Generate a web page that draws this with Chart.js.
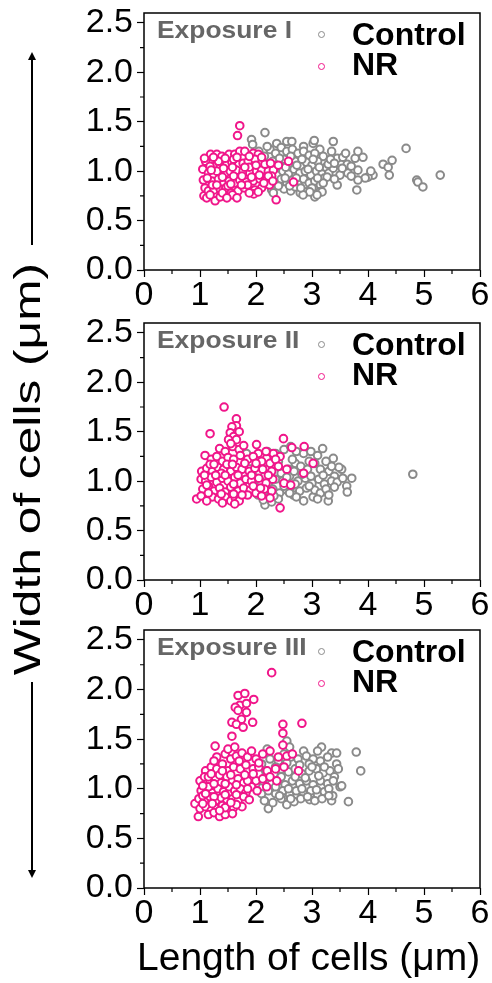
<!DOCTYPE html>
<html>
<head>
<meta charset="utf-8">
<script src="https://cdn.jsdelivr.net/npm/chart.js@4.4.1/dist/chart.umd.min.js"></script>
<style>
  html, body { margin: 0; padding: 0; background: #fff; }
  body { width: 492px; height: 983px; position: relative; overflow: hidden;
         font-family: "Liberation Sans", Arial, sans-serif; }
  canvas.panel { position: absolute; left: 0; }
  .txt { position: absolute; white-space: nowrap; }
  .expo { font-weight: bold; font-size: 24px; line-height: 24px; color: #666;
          transform: scaleX(1.1); transform-origin: left center; }
  .leg { font-weight: bold; font-size: 32px; line-height: 32px; color: #000; }
  .dot { position: absolute; width: 5px; height: 5px; border-radius: 50%;
         border: 1.5px solid; background: #fff; }
  #xtitle { font-size: 39px; line-height: 39px; left: 137px; top: 937px; }
  #ytitle { font-size: 36px; line-height: 36px; left: 28px; top: 469px;
            transform: translate(-50%, -50%) rotate(-90deg) scaleX(1.38); }
  svg { position: absolute; left: 0; top: 0; }
</style>
</head>
<body>
<canvas id="c1" class="panel" width="492" height="315" style="top:0px"></canvas>
<canvas id="c2" class="panel" width="492" height="315" style="top:310px"></canvas>
<canvas id="c3" class="panel" width="492" height="316" style="top:617px"></canvas>

<div id="ytitle" class="txt">Width of cells (μm)</div>
<div id="xtitle" class="txt">Length of cells (μm)</div>

<svg width="492" height="983">
  <defs>
    <marker id="ah" markerWidth="8" markerHeight="8" refX="4" refY="4" orient="auto" markerUnits="userSpaceOnUse">
      <path d="M0,0 L8,4 L0,8 z" fill="#000"/>
    </marker>
  </defs>
  <line x1="32" y1="245" x2="32" y2="56" stroke="#000" stroke-width="2" marker-end="url(#ah)"/>
  <line x1="32" y1="682" x2="32" y2="874" stroke="#000" stroke-width="2" marker-end="url(#ah)"/>
</svg>

<script>
// tick values
const X_TICKS_MAJOR = [0, 1, 2, 3, 4, 5, 6];
const X_TICKS_MINOR = [0.5, 1.5, 2.5, 3.5, 4.5, 5.5];
const Y_TICKS_MINOR = [0.25, 0.75, 1.25, 1.75, 2.25];

const PANEL_TITLES = ['Exposure I', 'Exposure II', 'Exposure III'];
const SERIES_NAMES = ['Control', 'NR'];

// ── Exposure I ──────────────────────────────────────────────
const ctrl1 = [
  [1.92,1.32],[1.94,1.27],[2.16,1.39],[2.37,1.28],[2.55,1.30],[2.64,1.30],[2.85,1.25],[3.02,1.28],[3.04,1.31],[3.14,1.22],[3.38,1.30],
  [2.05,1.20],[2.15,1.15],[2.25,1.22],[2.35,1.18],[2.45,1.24],[2.55,1.20],[2.65,1.22],[2.75,1.18],[2.85,1.20],[2.95,1.16],[3.05,1.18],[3.20,1.15],
  [2.10,1.08],[2.20,1.05],[2.30,1.10],[2.40,1.07],[2.50,1.12],[2.60,1.08],[2.70,1.10],[2.80,1.05],[2.90,1.09],[3.00,1.06],[3.10,1.10],[3.25,1.04],
  [2.15,0.98],[2.28,1.00],[2.38,0.96],[2.48,1.00],[2.58,0.97],[2.68,1.02],[2.78,0.98],[2.88,1.00],[2.98,0.96],[3.08,1.00],[3.18,0.97],[3.30,0.98],
  [2.25,0.90],[2.35,0.87],[2.45,0.92],[2.55,0.88],[2.65,0.91],[2.75,0.87],[2.85,0.92],[2.95,0.88],[3.05,0.90],[3.15,0.86],[3.22,0.93],
  [2.28,0.81],[2.31,0.78],[2.50,0.82],[2.62,0.80],[2.79,0.78],[2.90,0.79],[3.05,0.74],[3.14,0.79],[2.70,0.84],[3.00,0.83],
  [3.45,1.13],[3.55,1.14],[3.77,1.13],[3.82,1.20],[3.91,1.14],[4.27,1.07],[4.43,1.11],[4.36,1.04],[4.38,0.96],[4.09,0.96],
  [4.00,0.94],[3.95,0.93],[3.82,1.01],[3.82,0.91],[3.80,0.81],[3.45,0.86],[4.87,0.91],[4.89,0.89],[4.98,0.84],[5.29,0.96],
  [4.68,1.23],[3.63,1.07],[3.64,0.98],[3.50,0.96],[3.54,1.03],[3.38,1.03],[3.29,1.07],[3.27,0.94],[3.20,0.88],[3.18,0.79],
  [3.09,0.76],[2.96,0.79],[2.84,0.76],[3.35,1.20],[3.40,0.92],[3.70,1.05],[4.05,1.00],[3.60,1.18],[3.33,1.12],
  [2.20,1.25],[2.42,1.13],[2.62,1.15],[2.82,1.12],[3.02,1.12],[2.33,1.03],[2.53,1.04],[2.73,1.06],[2.93,1.02],[3.13,1.04],
  [2.40,0.85],[2.60,0.85],[2.80,0.83],[3.10,0.93],[3.40,1.08],[3.70,0.95],[2.52,0.93],[2.72,0.93]
];
const nr1 = [
  [1.71,1.46],[1.67,1.36],
  [1.05,1.02],[1.06,0.91],[1.09,0.83],[1.07,0.75],[1.12,0.73],
  [1.19,1.17],[1.30,1.17],[1.39,1.15],[1.52,1.17],[1.62,1.17],[1.71,1.20],[1.80,1.20],[1.95,1.18],[2.04,1.17],
  [1.27,1.05],[1.36,1.06],[1.48,1.08],[1.57,1.09],[1.69,1.07],[1.77,1.08],[1.86,1.10],[1.98,1.12],
  [1.15,0.98],[1.24,0.95],[1.36,0.97],[1.45,0.98],[1.54,1.00],[1.65,1.01],[1.77,1.00],[1.89,0.98],[2.01,1.00],[2.10,1.01],[2.22,1.00],[2.31,1.01],
  [1.21,0.90],[1.33,0.92],[1.42,0.87],[1.52,0.90],[1.62,0.88],[1.71,0.91],[1.83,0.89],[1.95,0.90],[2.07,0.92],[2.19,0.92],[2.28,0.95],
  [1.15,0.80],[1.25,0.81],[1.36,0.82],[1.46,0.83],[1.56,0.78],[1.68,0.80],[1.79,0.83],[1.98,0.81],[2.10,0.83],[2.24,0.86],
  [1.27,0.70],[1.36,0.74],[1.58,0.76],[1.96,0.77],[2.04,0.79],
  [2.36,0.71],[2.40,1.06],[2.58,1.10],[2.67,0.89],[2.22,0.95],[2.16,1.07],
  [1.10,1.10],[1.18,1.05],[1.30,1.00],[1.42,1.03],[1.60,0.95],[1.75,0.95],[1.88,1.04],[1.50,0.85],[1.40,0.78],[1.22,0.86],
  [1.33,1.10],[1.60,1.12],[1.85,0.86],[2.00,1.06],[1.13,0.93],
  [1.08,1.13],[1.24,1.14],[1.45,1.13],[1.66,1.14],[1.88,1.15],[2.10,1.14],[1.20,1.01],[1.40,0.94],[1.58,1.04],[1.80,1.04],
  [2.06,0.96],[2.26,1.08],[1.30,0.86],[1.55,0.87],[1.74,0.86],[1.92,0.94],[2.14,0.88],[1.18,0.76],[1.48,0.73],[1.66,0.73],
  [1.88,0.78],[2.30,0.90]
];

// ── Exposure II ─────────────────────────────────────────────
const ctrl2 = [
  [4.80,1.07],[3.19,1.33],[3.38,1.23],[3.53,1.12],[3.71,1.03],[3.62,0.95],[3.63,0.89],[3.29,0.80],[3.02,0.84],[2.67,0.86],
  [2.55,0.91],[2.16,0.76],[2.13,0.81],[2.28,0.79],[2.04,0.86],[1.83,1.28],
  [1.90,1.20],[2.00,1.15],[2.10,1.25],[2.20,1.30],[2.35,1.28],[2.50,1.32],[2.62,1.35],[2.72,1.30],[2.85,1.28],[2.98,1.30],[3.10,1.26],[3.25,1.20],
  [1.95,1.08],[2.05,1.10],[2.18,1.12],[2.30,1.15],[2.45,1.08],[2.58,1.12],[2.70,1.18],[2.80,1.15],[2.92,1.12],[3.05,1.18],[3.15,1.12],[3.30,1.10],[3.40,1.05],[3.48,1.14],
  [2.08,1.00],[2.22,0.98],[2.35,1.02],[2.48,1.00],[2.60,1.05],[2.75,1.00],[2.88,1.03],[3.00,0.98],[3.12,1.02],[3.22,0.97],[3.35,1.00],[3.45,0.99],[3.55,1.03],
  [2.15,0.90],[2.30,0.92],[2.42,0.88],[2.62,0.94],[2.78,0.90],[2.90,0.93],[3.05,0.91],[3.15,0.88],[3.25,0.92],[3.40,0.94],
  [2.40,0.82],[2.72,0.84],[2.85,0.80],[3.10,0.82],
  [1.88,0.95],[1.98,1.02],[2.95,1.20],[2.65,1.22],
  [2.25,1.05],[2.40,1.20],[2.55,1.04],[2.68,1.10],[2.82,1.07],[2.98,1.05],[3.20,1.06],[3.35,1.15],[2.50,0.95],[2.70,0.97],
  [2.95,0.95],[3.30,0.86],[2.32,0.85],[2.60,0.88]
];
const nr2 = [
  [1.43,1.75],[1.65,1.63],[1.65,1.56],[1.57,1.55],[1.54,1.49],[1.60,1.45],[1.51,1.42],[1.65,1.42],[1.18,1.48],[1.09,1.26],
  [0.94,0.82],[2.43,0.73],[2.49,1.43],[2.86,1.35],[3.02,1.18],[2.85,1.08],[2.64,1.34],[2.43,1.25],[2.31,1.28],[2.19,1.23],[2.01,1.37],[2.04,1.28],
  [1.35,1.33],[1.45,1.30],[1.58,1.35],[1.70,1.32],[1.78,1.36],
  [1.20,1.22],[1.30,1.25],[1.40,1.20],[1.50,1.24],[1.60,1.22],[1.72,1.26],[1.85,1.22],[1.95,1.25],[2.10,1.20],[2.25,1.18],[2.35,1.22],
  [1.03,1.10],[1.12,1.13],[1.22,1.10],[1.32,1.14],[1.42,1.12],[1.55,1.10],[1.65,1.14],[1.75,1.12],[1.88,1.10],[1.98,1.13],[2.12,1.12],[2.28,1.10],[2.40,1.15],[2.55,1.12],
  [1.02,1.02],[1.10,1.00],[1.20,1.04],[1.30,0.99],[1.40,1.03],[1.50,1.00],[1.62,1.04],[1.72,0.98],[1.82,1.02],[1.92,1.00],[2.05,1.03],[2.18,0.98],[2.30,1.02],[2.50,0.98],[2.62,0.96],
  [1.05,0.92],[1.15,0.95],[1.25,0.90],[1.35,0.93],[1.45,0.89],[1.55,0.94],[1.68,0.90],[1.78,0.93],[1.90,0.91],[2.00,0.88],[2.15,0.92],[2.28,0.90],
  [1.02,0.85],[1.22,0.84],[1.33,0.82],[1.45,0.84],[1.55,0.80],[1.63,0.83],[1.70,0.80],[1.85,0.86],[2.10,0.85],[2.25,0.83],
  [1.12,0.96],[1.38,1.08],[1.60,0.97],[1.48,1.17],[1.80,1.18],[1.92,1.06],[2.22,1.06],
  [1.08,1.06],[1.18,1.17],[1.28,1.06],[1.45,1.06],[1.58,1.17],[1.68,1.06],[1.15,0.88],[1.38,0.87],[1.60,0.87],[1.75,0.86],
  [1.95,0.95],[2.08,0.93],[1.12,0.80],[1.40,0.78],[1.62,0.77],[1.70,1.50],[1.55,1.38],[1.25,1.17],[2.00,1.18],[2.18,1.30]
];

// ── Exposure III ────────────────────────────────────────────
const ctrl3 = [
  [2.55,1.48],[3.17,1.42],[3.35,1.36],[3.44,1.36],[3.79,1.37],[3.87,1.18],[3.65,0.87],[3.35,0.88],[3.37,0.93],[3.50,1.02],
  [3.53,1.03],[3.44,1.25],[3.47,1.20],[2.55,0.84],[2.22,0.80],[2.96,0.89],[2.85,1.38],
  [2.10,1.25],[2.25,1.30],[2.40,1.28],[2.50,1.35],[2.62,1.32],[2.75,1.30],[2.90,1.33],[3.02,1.30],[3.15,1.28],[3.28,1.32],
  [2.05,1.15],[2.18,1.18],[2.32,1.15],[2.45,1.20],[2.58,1.17],[2.70,1.20],[2.82,1.15],[2.95,1.18],[3.08,1.20],[3.20,1.16],[3.32,1.18],[3.40,1.12],
  [2.00,1.05],[2.12,1.08],[2.28,1.05],[2.40,1.08],[2.52,1.04],[2.65,1.08],[2.78,1.05],[2.90,1.08],[3.02,1.04],[3.15,1.08],[3.28,1.05],[3.38,1.08],
  [2.10,0.95],[2.22,0.98],[2.35,0.95],[2.48,0.98],[2.60,0.94],[2.72,0.98],[2.85,0.95],[2.98,0.98],[3.10,0.94],[3.22,0.97],[3.30,1.00],
  [2.15,0.88],[2.30,0.86],[2.45,0.90],[2.68,0.87],[2.80,0.90],[3.05,0.88],[3.18,0.90],
  [2.60,1.42],[2.95,1.25],[2.20,1.40],[3.10,1.38],
  [2.35,1.22],[2.55,1.26],[2.78,1.24],[3.00,1.22],[3.22,1.22],[2.20,1.12],[2.45,1.12],[2.70,1.12],[2.88,1.11],[3.12,1.13],
  [2.35,1.02],[2.58,1.00],[2.82,1.00],[3.08,0.99],[2.42,0.93],[2.92,0.92],[3.30,0.93],[2.62,0.90]
];
const nr3 = [
  [2.28,2.17],
  [1.68,1.94],[1.80,1.96],[1.71,1.84],[1.83,1.86],[1.63,1.82],[1.68,1.79],[1.83,1.77],[1.74,1.70],[1.96,1.90],[1.57,1.67],
  [1.65,1.65],[1.77,1.62],[1.94,1.67],[1.57,1.53],
  [2.48,1.65],[2.48,1.56],[2.48,1.44],[2.82,1.66],[1.27,1.43],[0.97,0.72],[0.91,0.85],[2.76,1.18],[2.19,1.02],[2.37,1.08],
  [1.30,1.32],[1.45,1.35],[1.55,1.30],[1.65,1.33],[1.75,1.36],[1.85,1.32],[2.00,1.30],[2.12,1.35],[2.25,1.38],[2.40,1.32],[2.55,1.33],[2.65,1.35],
  [1.10,1.18],[1.20,1.22],[1.30,1.20],[1.40,1.25],[1.50,1.18],[1.60,1.22],[1.72,1.20],[1.82,1.24],[1.95,1.20],[2.05,1.22],[2.20,1.18],[2.35,1.20],[2.50,1.22],
  [1.00,1.08],[1.08,1.12],[1.18,1.08],[1.28,1.10],[1.38,1.06],[1.48,1.12],[1.58,1.08],[1.68,1.10],[1.78,1.06],[1.90,1.12],[2.00,1.08],[2.12,1.10],[2.25,1.12],
  [1.02,0.98],[1.12,1.00],[1.22,0.96],[1.32,1.00],[1.42,0.97],[1.52,1.02],[1.62,0.98],[1.72,1.00],[1.82,0.96],[1.92,1.02],[2.02,0.98],
  [0.98,0.90],[1.08,0.88],[1.18,0.92],[1.28,0.88],[1.38,0.91],[1.48,0.87],[1.58,0.90],[1.68,0.88],[1.78,0.92],[1.88,0.89],
  [1.00,0.80],[1.10,0.82],[1.20,0.78],[1.30,0.80],[1.40,0.83],[1.50,0.78],[1.60,0.81],[1.75,0.82],
  [1.15,0.74],[1.25,0.76],[1.35,0.72],[1.45,0.74],[1.58,0.75],
  [1.25,1.28],[1.50,1.40],[1.62,1.42],[1.70,1.28],[1.15,1.02],[1.45,1.05],[1.05,0.93],
  [1.05,1.03],[1.15,1.12],[1.25,1.05],[1.35,1.14],[1.55,1.14],[1.65,1.04],[1.85,1.08],[1.10,0.95],[1.25,0.92],[1.45,0.94],
  [1.65,0.94],[1.85,1.00],[1.05,0.85],[1.22,0.85],[1.45,0.81],[1.65,0.84],[1.35,0.78],[1.55,0.86],[1.95,1.15],[1.40,1.18],
  [1.20,1.15],[1.80,1.14],[2.05,1.26],[1.92,1.38]
];

const PANELS = [
  { id: 'c1', top: 0,   ctrl: ctrl1, nr: nr1 },
  { id: 'c2', top: 310, ctrl: ctrl2, nr: nr2 },
  { id: 'c3', top: 617, ctrl: ctrl3, nr: nr3 },
];

const GREY = '#8a8a8a';
const PINK = '#f0168a';
const FONT = '"Liberation Sans", Arial, sans-serif';

// frame around plot area + short minor ticks
const framePlugin = {
  id: 'frame',
  afterDraw(chart) {
    const { ctx, chartArea: a, scales } = chart;
    ctx.save();
    ctx.strokeStyle = '#000';
    ctx.lineWidth = 1.5;
    ctx.strokeRect(a.left, a.top, a.right - a.left, a.bottom - a.top);
    ctx.lineWidth = 1.2;
    ctx.beginPath();
    X_TICKS_MINOR.forEach(v => {
      const x = scales.x.getPixelForValue(v);
      ctx.moveTo(x, a.bottom);
      ctx.lineTo(x, a.bottom + 4);
    });
    Y_TICKS_MINOR.forEach(v => {
      const y = scales.y.getPixelForValue(v);
      ctx.moveTo(a.left, y);
      ctx.lineTo(a.left - 4, y);
    });
    ctx.stroke();
    ctx.restore();
  }
};

const toPts = arr => arr.map(([x, y]) => ({ x, y }));

PANELS.forEach((p, i) => {
  new Chart(document.getElementById(p.id), {
    type: 'scatter',
    data: {
      datasets: [
        { label: SERIES_NAMES[0], data: toPts(p.ctrl), order: 1,
          borderColor: GREY, backgroundColor: '#fff', pointRadius: 3.8, borderWidth: 2 },
        { label: SERIES_NAMES[1], data: toPts(p.nr), order: 0,
          borderColor: PINK, backgroundColor: '#fff', pointRadius: 3.8, borderWidth: 2 },
      ],
    },
    options: {
      responsive: false,
      animation: false,
      devicePixelRatio: 1,
      layout: { autoPadding: false, padding: { top: 13, right: 12, left: 0, bottom: 0 } },
      plugins: { legend: { display: false }, tooltip: { enabled: false } },
      scales: {
        x: {
          type: 'linear', min: 0, max: 6,
          afterFit: s => { s.height = 45; },
          afterBuildTicks: s => { s.ticks = X_TICKS_MAJOR.map(v => ({ value: v })); },
          ticks: { color: '#000', font: { family: FONT, size: 34 }, padding: -2,
                   maxRotation: 0, autoSkip: false, callback: v => String(v) },
          grid: { drawOnChartArea: false, tickLength: 7, tickColor: '#000', tickWidth: 1.2 },
          border: { display: false },
        },
        y: {
          type: 'linear', min: 0, max: 2.6,
          afterFit: s => { s.width = 144; s.paddingTop = 0; s.paddingBottom = 0; },
          ticks: { stepSize: 0.5, includeBounds: false, color: '#000',
                   font: { family: FONT, size: 34, lineHeight: 0.5 }, padding: 4,
                   callback: v => v.toFixed(1) },
          grid: { drawOnChartArea: false, tickLength: 7, tickColor: '#000', tickWidth: 1.2 },
          border: { display: false },
        },
      },
    },
    plugins: [framePlugin],
  });

  // legend block in the upper part of each panel
  const t = p.top;
  const add = (html) => document.body.insertAdjacentHTML('beforeend', html);
  add(`<div class="txt expo" style="left:157px;top:${t + 18}px">${PANEL_TITLES[i]}</div>`);
  add(`<div class="dot" style="left:318px;top:${t + 31}px;border-color:${GREY}"></div>`);
  add(`<div class="txt leg" style="left:352px;top:${t + 18}px">${SERIES_NAMES[0]}</div>`);
  add(`<div class="dot" style="left:318px;top:${t + 63}px;border-color:${PINK}"></div>`);
  add(`<div class="txt leg" style="left:352px;top:${t + 48}px">${SERIES_NAMES[1]}</div>`);
});
</script>
</body>
</html>
